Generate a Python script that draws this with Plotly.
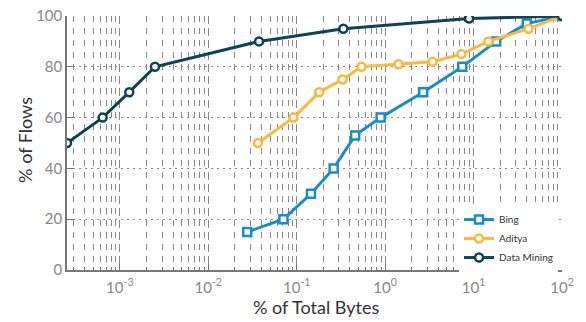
import plotly.graph_objects as go

bing_x = [0.0276, 0.0708, 0.145, 0.262, 0.458, 0.89, 2.69, 7.46, 18.0, 40.0, 100.0]
bing_y = [15, 20, 30, 40, 53, 60, 70, 80, 90, 97, 100]

aditya_x = [0.0365, 0.092, 0.18, 0.33, 0.54, 1.42, 3.44, 7.3, 14.7, 42.0, 100.0]
aditya_y = [50, 60, 70, 75, 80, 81, 82, 85, 90, 95, 100]

dm_x = [0.000253, 0.00064, 0.00128, 0.0025, 0.0375, 0.337, 8.9, 100.0]
dm_y = [50, 60, 70, 80, 90, 95, 99, 100]

x_tickvals = [1e-3, 1e-2, 1e-1, 1, 10, 100]
x_ticktext = ["10<sup>-3</sup>", "10<sup>-2</sup>", "10<sup>-1</sup>", "10<sup>0</sup>", "10<sup>1</sup>", "10<sup>2</sup>"]
y_tickvals = [0, 20, 40, 60, 80, 100]

series = [
    ("Bing", bing_x, bing_y, "#1a8cc8", "square"),
    ("Aditya", aditya_x, aditya_y, "#fcb73d", "circle"),
    ("Data Mining", dm_x, dm_y, "#0d4257", "circle"),
]

fig = go.Figure()
for name, xs, ys, col, sym in series:
    fig.add_trace(go.Scatter(
        x=xs, y=ys, name=name, mode="lines+markers",
        line=dict(color=col, width=3),
        marker=dict(symbol=sym, size=8, color="white", line=dict(color=col, width=2.5)),
    ))

font_family = "Lato, 'Open Sans', sans-serif"
fig.update_layout(
    width=586, height=322,
    margin=dict(l=67, r=24, t=16, b=52, autoexpand=False),
    plot_bgcolor="white", paper_bgcolor="white",
    font=dict(family=font_family, color="#333"),
    showlegend=True,
    legend=dict(x=0.992, xanchor="right", y=-0.008, yanchor="bottom",
                bgcolor="white", font=dict(size=10, color="#333"),
                itemwidth=30, tracegroupgap=0),
    annotations=[
        dict(text="% of Total Bytes", xref="paper", yref="paper", x=0.503, y=-0.145,
             xanchor="center", yanchor="middle", showarrow=False,
             font=dict(size=18, color="#333")),
        dict(text="% of Flows", xref="paper", yref="paper", x=-0.085, y=0.512,
             xanchor="center", yanchor="middle", showarrow=False, textangle=-90,
             font=dict(size=18, color="#333")),
    ],
)
fig.update_xaxes(
    type="log", range=[-3.597, 2.0], automargin=False,
    tickvals=x_tickvals, ticktext=x_ticktext, ticklabeloverflow="allow",
    tickfont=dict(size=15, color="#888"), ticklabelstandoff=3,
    showline=True, linecolor="#777", linewidth=1.5,
    ticks="inside", ticklen=6, tickcolor="#777",
    showgrid=True, gridcolor="#888", griddash="2px,4px", gridwidth=1,
    minor=dict(ticks="inside", ticklen=3, tickcolor="#777", showgrid=True,
               gridcolor="#888", griddash="6px,6px", gridwidth=1, dtick="D1"),
    zeroline=False,
)
fig.update_yaxes(
    range=[0, 100], tickvals=y_tickvals, automargin=False, ticklabeloverflow="allow",
    tickfont=dict(size=15, color="#888"),
    showline=True, linecolor="#777", linewidth=1.5,
    ticks="inside", ticklen=7, tickcolor="#777",
    showgrid=True, gridcolor="#888", griddash="2px,4px", gridwidth=1,
    zeroline=False,
)

fig.write_html("out.html", config={"displayModeBar": False},
               post_script="document.body.style.margin='0px';")
